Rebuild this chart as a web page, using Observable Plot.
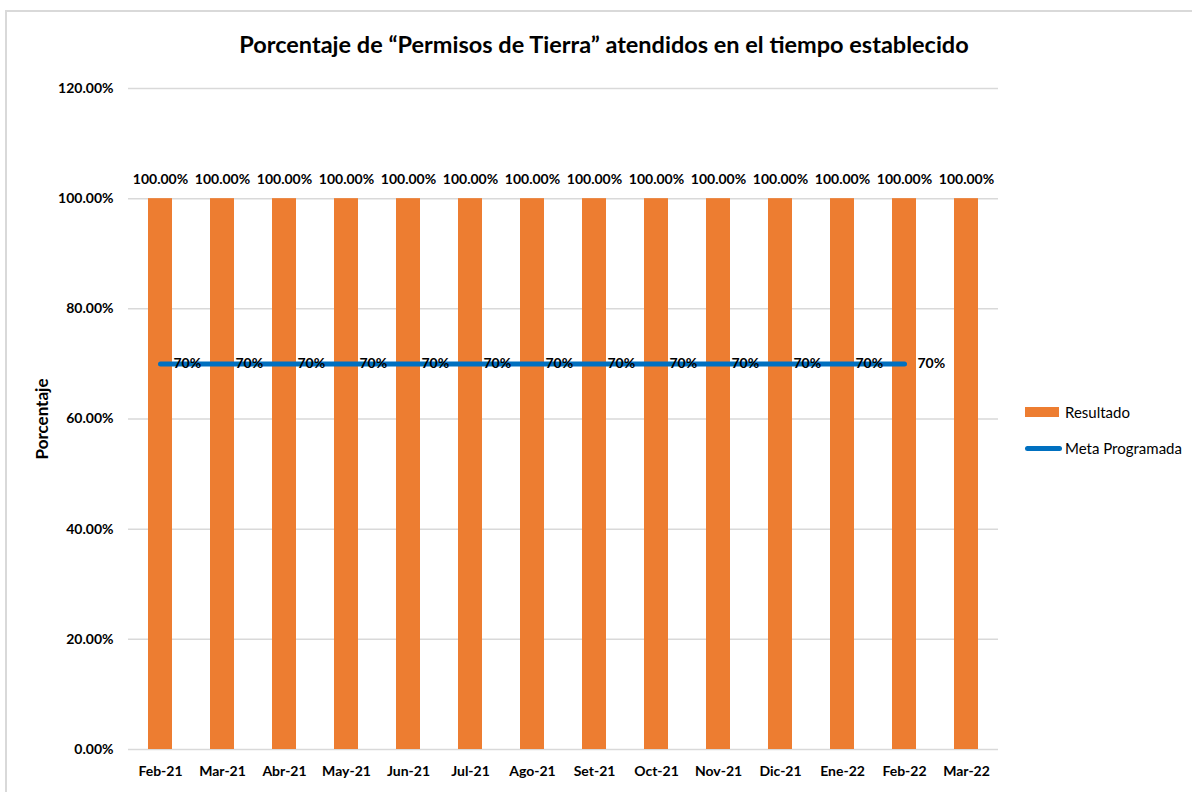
<!DOCTYPE html>
<html>
<head>
<meta charset="utf-8">
<script src="https://cdn.jsdelivr.net/npm/d3@7"></script>
<script src="https://cdn.jsdelivr.net/npm/@observablehq/plot@0.6"></script>
<style>
  html, body { margin: 0; padding: 0; background: #fff; }
  body { width: 1192px; height: 792px; position: relative; overflow: hidden; font-family: Lato, "Open Sans", sans-serif; }
  #frame { position: absolute; left: 5px; top: 10px; width: 1300px; height: 900px; border-top: 2px solid #d9d9d9; border-left: 2px solid #d9d9d9; }
  #chart { position: absolute; left: 0; top: 0; }
  #title { position: absolute; left: 0; width: 1208px; top: 30px; text-align: center; font-size: 23.5px; font-weight: bold; color: #000; white-space: nowrap; }
  .leg { position: absolute; left: 1025px; font-size: 15px; color: #000; display: flex; align-items: center; white-space: nowrap; }
  .sw-bar { width: 34px; height: 10px; background: #ED7D31; margin-right: 6px; }
  .sw-line { width: 37px; height: 5px; background: #0070C0; border-radius: 3px; margin-right: 3px; }
</style>
</head>
<body>
<div id="frame"></div>
<div id="chart"></div>
<div id="title">Porcentaje de “Permisos de Tierra” atendidos en el tiempo establecido</div>
<div class="leg" style="top:403px"><div class="sw-bar"></div>Resultado</div>
<div class="leg" style="top:439px"><div class="sw-line"></div>Meta Programada</div>
<script>
const months = ["Feb-21","Mar-21","Abr-21","May-21","Jun-21","Jul-21","Ago-21","Set-21","Oct-21","Nov-21","Dic-21","Ene-22","Feb-22","Mar-22"];
const resultado = [100,100,100,100,100,100,100,100,100,100,100,100,100,100];
const metaMonths = months.slice(0, 13);
const meta = [70,70,70,70,70,70,70,70,70,70,70,70,70];
const yTicks = [0,20,40,60,80,100,120];

const barData = months.map((m, i) => ({month: m, value: resultado[i]}));
const lineData = metaMonths.map((m, i) => ({month: m, value: meta[i]}));
const fmt2 = d => d.toFixed(2) + "%";

const chart = Plot.plot({
  width: 1192,
  height: 792,
  marginLeft: 128,
  marginRight: 194,
  marginTop: 88,
  marginBottom: 43,
  style: {fontFamily: "Lato, 'Open Sans', sans-serif", fontSize: "14px", fontWeight: "bold", color: "#000", background: "transparent"},
  x: {domain: months, paddingInner: 0.62, paddingOuter: 0.31, label: null},
  y: {domain: [0, 120], label: null},
  marks: [
    Plot.gridY(yTicks, {stroke: "#d9d9d9", strokeOpacity: 1, strokeWidth: 1.5}),
    Plot.axisY(yTicks, {tickSize: 0, tickPadding: 15, tickFormat: fmt2, label: null, fontWeight: "bold"}),
    Plot.axisX({tickSize: 0, tickPadding: 17, label: null, fontWeight: "bold"}),
    Plot.barY(barData, {x: "month", y: "value", fill: "#ED7D31"}),
    Plot.text(barData, {x: "month", y: "value", text: d => fmt2(d.value), dy: -19, fontWeight: "bold", fill: "#000"}),
    Plot.line(lineData, {x: "month", y: "value", stroke: "#0070C0", strokeWidth: 5, strokeLinecap: "round"}),
    Plot.text(lineData, {x: "month", y: "value", text: d => d.value + "%", dx: 13, textAnchor: "start", fontWeight: "bold", fill: "#000"}),
    Plot.text(["Porcentaje"], {frameAnchor: "left", dx: -86, rotate: -90, textAnchor: "middle", fontSize: 17, fontWeight: "bold", fill: "#000"})
  ]
});
document.getElementById("chart").appendChild(chart);
</script>
</body>
</html>
